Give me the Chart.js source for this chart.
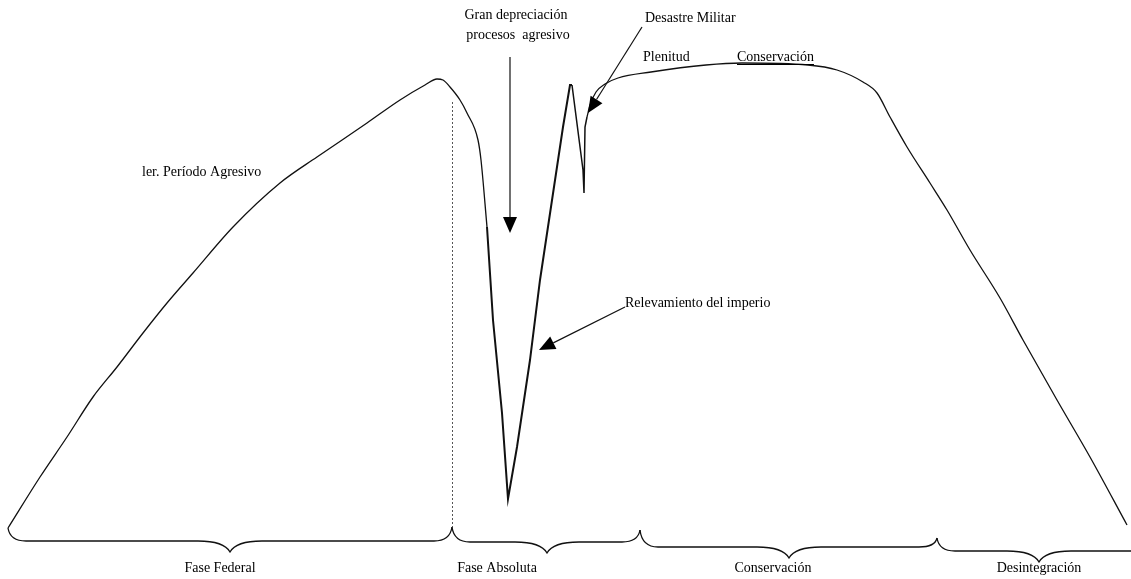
<!DOCTYPE html>
<html>
<head>
<meta charset="utf-8">
<script src="https://cdn.jsdelivr.net/npm/chart.js@4"></script>
<style>
  html, body { margin: 0; padding: 0; background: #fff; }
  #caja { width: 1131px; height: 579px; position: relative; }
</style>
</head>
<body>
<div id="caja"><canvas id="graficoImperio"></canvas></div>
<script>
// tiempo (eje x) y nivel de poder (eje y)
const tiempo = [8, 40, 67, 93, 117, 143, 167, 193, 233, 280, 317, 367, 400, 425, 437, 443, 450, 460, 467, 478, 481,
    487, 493, 502, 508, 517, 530, 540, 563, 570, 572, 583, 584, 585, 587, 590, 596, 605, 618, 651, 706, 742, 808,
    837, 863, 877, 890, 907, 930, 947, 970, 1000, 1023, 1057, 1090, 1127];
const nivel = [51, 102, 142, 182, 212, 246, 276, 306, 352, 396, 422, 456, 479, 494, 500, 499, 492, 479, 466, 439, 419,
    352, 259, 166, 80, 132, 219, 299, 452, 494, 494, 409, 386, 452, 462, 474, 487, 495, 501, 507, 514, 516, 514,
    509, 497, 486, 462, 432, 396, 369, 329, 281, 239, 179, 122, 54];

// fases (llaves inferiores)
const fases = ['Fase Federal', 'Fase Absoluta', 'Conservación', 'Desintegración'];
const limitesFase = [8, 452, 640, 937, 1131];
const puntaFase = [230, 547, 789, 1039];
const centroTexto = [220, 497, 773, 1039];

document.addEventListener("DOMContentLoaded", () => {

    const serif = "14px 'Liberation Serif', 'DejaVu Serif', serif";

    // textos y flechas del dibujo, en unidades de datos [tiempo, nivel]
    const notas = [
        { texto: 'Gran depreciación', x: 516, y: 564, align: 'center' },
        { texto: 'procesos  agresivo', x: 518, y: 544, align: 'center' },
        { texto: 'Desastre Militar', x: 645, y: 561, align: 'left' },
        { texto: 'Plenitud', x: 643, y: 522, align: 'left' },
        { texto: 'Conservación', x: 737, y: 522, align: 'left', subrayado: true },
        { texto: 'ler. Período Agresivo', x: 142, y: 407, align: 'left' },
        { texto: 'Relevamiento del imperio', x: 625, y: 276, align: 'left' }
    ];
    const flechas = [
        [[510, 522], [510, 346]],
        [[642, 552], [588, 466]],
        [[625, 272], [539, 229]]
    ];

    const dibujoExtra = {
        id: 'dibujoExtra',
        afterDatasetsDraw(chart) {
            const ctx = chart.ctx;
            const sx = chart.scales.x, sy = chart.scales.y;
            const X = v => sx.getPixelForValue(v);
            const Y = v => sy.getPixelForValue(v);

            ctx.save();
            // linea punteada
            ctx.strokeStyle = '#555';
            ctx.lineWidth = 1;
            ctx.setLineDash([2, 2]);
            ctx.beginPath();
            ctx.moveTo(X(452) + 0.5, Y(477));
            ctx.lineTo(X(452) + 0.5, Y(52));
            ctx.stroke();
            ctx.setLineDash([]);

            // textos
            ctx.fillStyle = '#000';
            ctx.font = serif;
            ctx.textBaseline = 'middle';
            notas.forEach(n => {
                ctx.textAlign = n.align;
                ctx.fillText(n.texto, X(n.x), Y(n.y));
                if (n.subrayado) {
                    const w = ctx.measureText(n.texto).width;
                    ctx.strokeStyle = '#000';
                    ctx.lineWidth = 1;
                    ctx.beginPath();
                    ctx.moveTo(X(n.x), Y(n.y) + 7.5);
                    ctx.lineTo(X(n.x) + w, Y(n.y) + 7.5);
                    ctx.stroke();
                }
            });

            // flechas
            ctx.strokeStyle = '#111';
            ctx.fillStyle = '#000';
            ctx.lineWidth = 1.2;
            flechas.forEach(([a, b]) => {
                const x0 = X(a[0]), y0 = Y(a[1]), x1 = X(b[0]), y1 = Y(b[1]);
                const ang = Math.atan2(y1 - y0, x1 - x0);
                const largo = 16, ancho = 7;
                ctx.beginPath();
                ctx.moveTo(x0, y0);
                ctx.lineTo(x1 - Math.cos(ang) * largo, y1 - Math.sin(ang) * largo);
                ctx.stroke();
                ctx.beginPath();
                ctx.moveTo(x1, y1);
                ctx.lineTo(x1 - Math.cos(ang) * largo - Math.sin(ang) * ancho, y1 - Math.sin(ang) * largo + Math.cos(ang) * ancho);
                ctx.lineTo(x1 - Math.cos(ang) * largo + Math.sin(ang) * ancho, y1 - Math.sin(ang) * largo - Math.cos(ang) * ancho);
                ctx.closePath();
                ctx.fill();
            });

            // llaves de las fases
            const bases = [541, 542, 547, 551];       // altura en px de cada llave
            const extremos = [528, 527, 530, 538, 551];
            ctx.strokeStyle = '#111';
            ctx.lineWidth = 1.3;
            fases.forEach((f, i) => {
                const a = X(limitesFase[i]), b = X(limitesFase[i + 1]), p = X(puntaFase[i]);
                const yb = bases[i], ya = extremos[i], yc = extremos[i + 1];
                ctx.beginPath();
                ctx.moveTo(a, ya);
                ctx.quadraticCurveTo(a + 2, yb, a + 18, yb);
                ctx.lineTo(p - 32, yb);
                ctx.quadraticCurveTo(p - 6, yb, p, yb + 11);
                ctx.quadraticCurveTo(p + 6, yb, p + 32, yb);
                if (i < fases.length - 1) {
                    ctx.lineTo(b - 18, yb);
                    ctx.quadraticCurveTo(b - 2, yb, b, yc);
                } else {
                    ctx.lineTo(b, yb);
                }
                ctx.stroke();

                ctx.textAlign = 'center';
                ctx.fillText(f, X(centroTexto[i]), 568);
            });
            ctx.restore();
        }
    };

    // tramos: curva suave, caida en V (trazo recto), curva suave
    const puntos = tiempo.map((t, i) => ({ x: t, y: nivel[i] }));
    const tramo = (desde, hasta, suave, grosor) => ({
        data: puntos.slice(desde, hasta + 1),
        borderColor: '#111',
        borderWidth: grosor,
        pointRadius: 0,
        fill: false,
        tension: suave ? 0.4 : 0,
        cubicInterpolationMode: suave ? 'monotone' : 'default'
    });

    const grafico = document.querySelector("#graficoImperio");

    new Chart(grafico, {
        type: 'line',
        data: {
            datasets: [
                tramo(0, 21, true, 1.3),
                tramo(21, 30, false, 2),
                tramo(30, 34, false, 1.5),
                tramo(34, tiempo.length - 1, true, 1.3)
            ]
        },
        options: {
            responsive: true,
            maintainAspectRatio: false,
            animation: false,
            layout: { padding: 0 },
            scales: {
                x: { type: 'linear', min: 0, max: 1131, display: false },
                y: { type: 'linear', min: 0, max: 579, display: false }
            },
            plugins: {
                legend: { display: false },
                tooltip: { enabled: false }
            }
        },
        plugins: [dibujoExtra]
    });

});
</script>
</body>
</html>
